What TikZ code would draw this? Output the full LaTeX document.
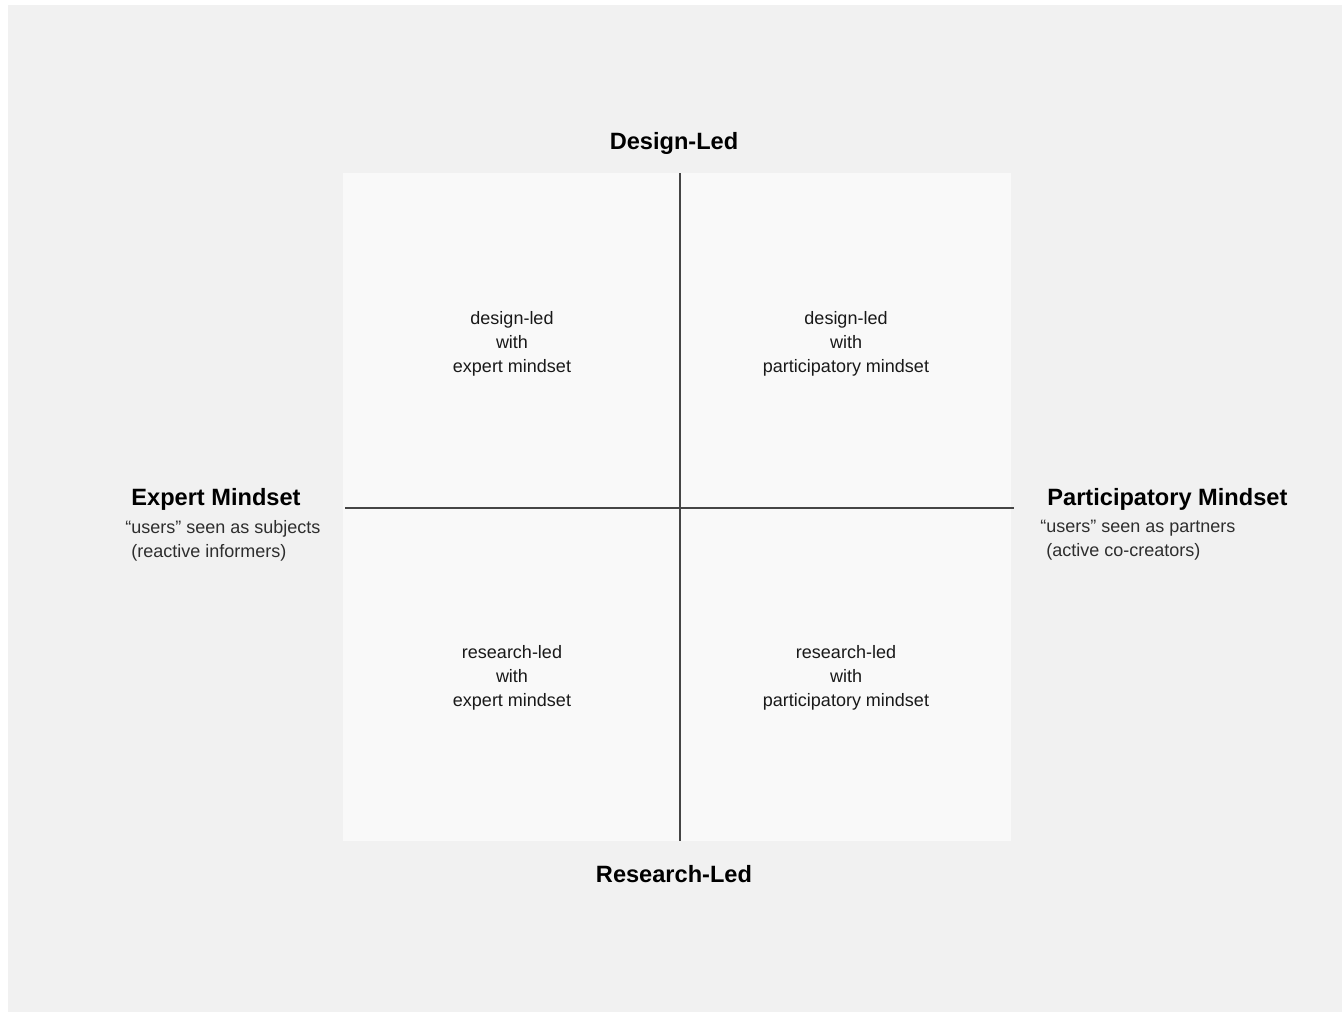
\documentclass[tikz,border=0pt]{standalone}
\usepackage{fontspec}
\setmainfont{Liberation Sans}
\usetikzlibrary{positioning}
\definecolor{panelgray}{HTML}{F1F1F1}
\definecolor{gridwhite}{HTML}{F9F9F9}
\definecolor{axisgray}{HTML}{454545}
\definecolor{subgray}{HTML}{2E2E2E}

\begin{document}
\begin{tikzpicture}[x=0.5pt,y=-0.5pt,
  axis/.style={draw=axisgray,line width=1pt},
  pole/.style={font=\fontsize{11.8}{14}\selectfont\bfseries,text=black,inner sep=0pt},
  quad/.style={font=\fontsize{9}{12}\selectfont,align=center,text=black!90,inner sep=0pt},
  note/.style={font=\fontsize{9}{12}\selectfont,align=left,text=subgray,inner sep=0pt}]
\useasboundingbox (0,0) rectangle (1342,1013);
\fill[white] (0,0) rectangle (1342,1013);
\fill[panelgray] (8,5) rectangle (1342,1012);
\fill[gridwhite] (343,173) rectangle (1011,841);
\coordinate (top) at (680,173);
\coordinate (bot) at (680,841);
\coordinate (lft) at (345,508);
\coordinate (rgt) at (1014,508);
\draw[axis] (top)--(bot) (lft)--(rgt);
\node[pole] (design) at (674,143) {Design-Led};
\node[pole] (research) at (674,874) {Research-Led};
\node[pole,anchor=west] (expert) at (131,499) {Expert Mindset};
\node[note,anchor=north west] (expertnote) at (131,520) {\llap{“}users” seen as subjects\\(reactive informers)};
\node[pole,anchor=west] (partic) at (1047,499) {Participatory Mindset};
\node[note,anchor=north west] (particnote) at (1046,520) {\llap{“}users” seen as partners\\(active co-creators)};
\node[quad] (de) at (512,344) {design-led\\with\\expert mindset};
\node[quad] (dp) at (846,344) {design-led\\with\\participatory mindset};
\node[quad] (re) at (512,678) {research-led\\with\\expert mindset};
\node[quad] (rp) at (846,678) {research-led\\with\\participatory mindset};
\end{tikzpicture}
\end{document}
